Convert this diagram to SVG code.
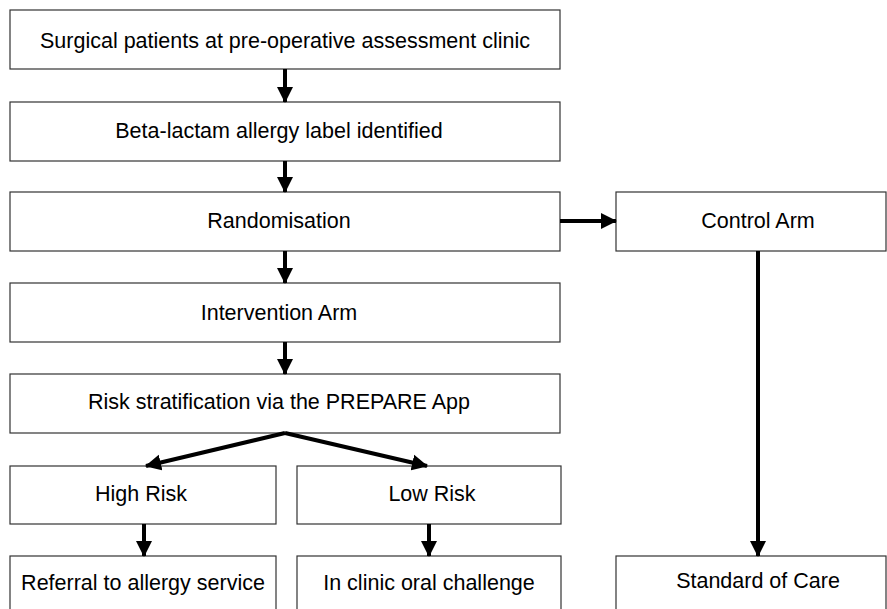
<svg xmlns="http://www.w3.org/2000/svg" width="887" height="609" viewBox="0 0 887 609">
<style>
.box{fill:#fff;stroke:#333;stroke-width:1.2}
.t{font-family:"Liberation Sans",Arial,sans-serif;font-size:21.5px;fill:#000;text-anchor:middle}
.c{stroke:#000;stroke-width:4;fill:none;marker-end:url(#ah)}
</style>
<defs>
<marker id="ah" markerUnits="userSpaceOnUse" markerWidth="18" markerHeight="18" viewBox="0 0 18 18" refX="15" refY="9" orient="auto">
<path d="M0,1 L16,9 L0,17 Z" fill="#000"/>
</marker>
</defs>
<rect width="887" height="609" fill="#fff"/>
<g id="n1"><rect class="box" x="10" y="10" width="550" height="59"/><text class="t" x="285" y="48">Surgical patients at pre-operative assessment clinic</text></g>
<g id="n2"><rect class="box" x="10" y="102" width="550" height="59"/><text class="t" x="279" y="138">Beta-lactam allergy label identified</text></g>
<g id="n3"><rect class="box" x="10" y="192" width="550" height="59"/><text class="t" x="279" y="228">Randomisation</text></g>
<g id="n4"><rect class="box" x="616" y="192" width="270" height="59"/><text class="t" x="758" y="228">Control Arm</text></g>
<g id="n5"><rect class="box" x="10" y="283" width="550" height="59"/><text class="t" x="279" y="320">Intervention Arm</text></g>
<g id="n6"><rect class="box" x="10" y="374" width="550" height="59"/><text class="t" x="279" y="409">Risk stratification via the PREPARE App</text></g>
<g id="n7"><rect class="box" x="10" y="466" width="266" height="58"/><text class="t" x="141" y="501">High Risk</text></g>
<g id="n8"><rect class="box" x="297" y="466" width="264" height="58"/><text class="t" x="432" y="501">Low Risk</text></g>
<g id="n9"><rect class="box" x="10" y="556" width="266" height="70"/><text class="t" x="143" y="590">Referral to allergy service</text></g>
<g id="n10"><rect class="box" x="297" y="556" width="264" height="70"/><text class="t" x="429" y="590">In clinic oral challenge</text></g>
<g id="n11"><rect class="box" x="616" y="556" width="270" height="70"/><text class="t" x="758" y="588">Standard of Care</text></g>
<g id="connectors">
<path class="c" d="M285,69 V102"/>
<path class="c" d="M285,161 V192"/>
<path class="c" d="M285,251 V283"/>
<path class="c" d="M560,221 H616"/>
<path class="c" d="M285,342 V374"/>
<path class="c" d="M285,433 L146,466"/>
<path class="c" d="M285,433 L427,466"/>
<path class="c" d="M144,524 V556"/>
<path class="c" d="M429,524 V556"/>
<path class="c" d="M758,251 V556"/>
</g>
</svg>
